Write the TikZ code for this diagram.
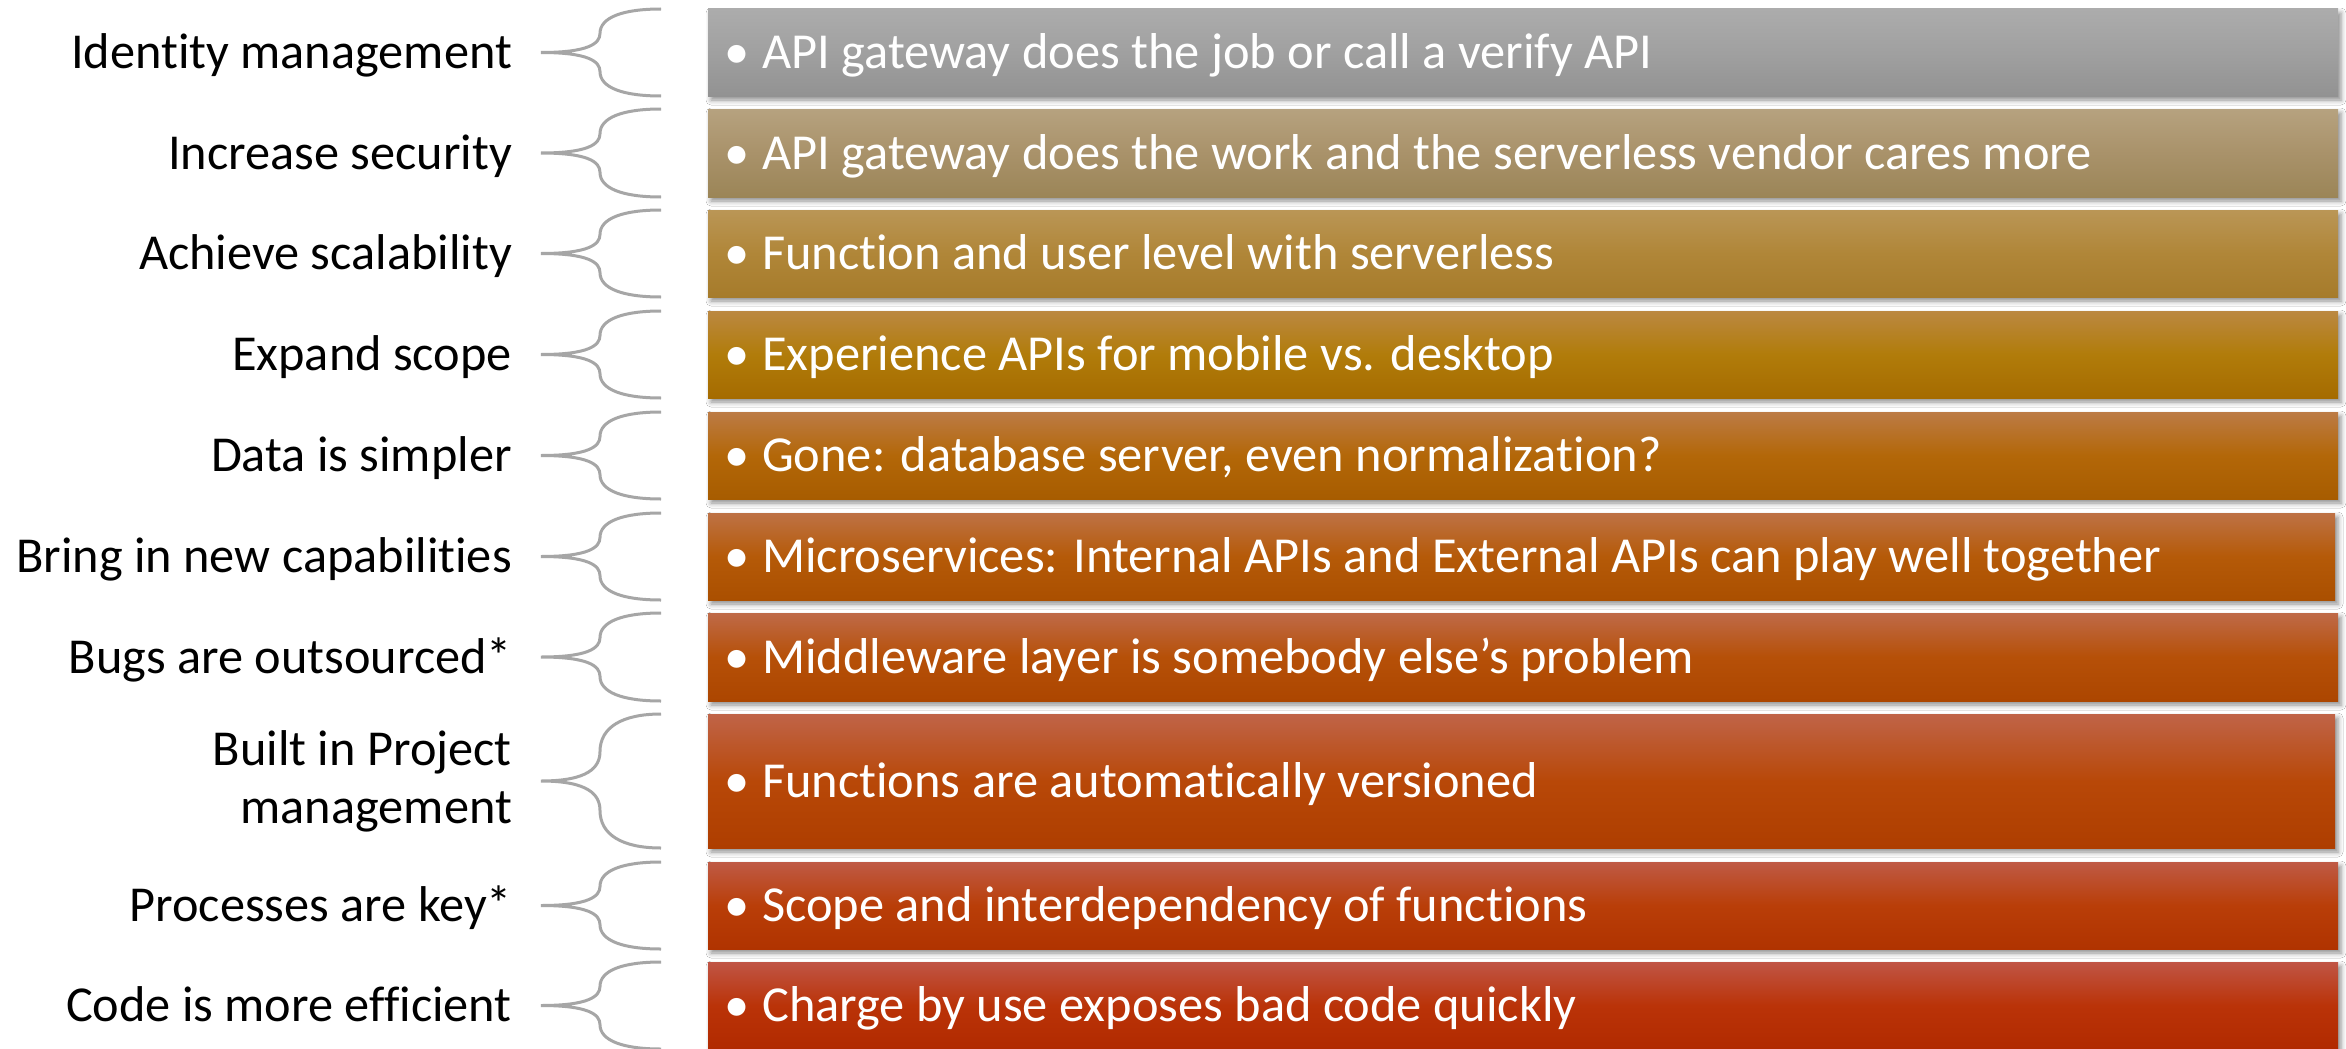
\documentclass[tikz,border=0pt]{standalone}
\usepackage{fontspec}
\setmainfont[Ligatures=NoCommon]{Carlito}
\usetikzlibrary{shadows.blur}
\definecolor{rt1}{HTML}{ACACAC}\definecolor{rm1}{HTML}{A0A0A0}\definecolor{rb1}{HTML}{929292}
\definecolor{rt2}{HTML}{B6A27F}\definecolor{rm2}{HTML}{A9926A}\definecolor{rb2}{HTML}{9B8557}
\definecolor{rt3}{HTML}{BA9656}\definecolor{rm3}{HTML}{B08638}\definecolor{rb3}{HTML}{A67B2B}
\definecolor{rt4}{HTML}{BB8841}\definecolor{rm4}{HTML}{B17C0A}\definecolor{rb4}{HTML}{A56B00}
\definecolor{rt5}{HTML}{BC7B45}\definecolor{rm5}{HTML}{B36708}\definecolor{rb5}{HTML}{A75C00}
\definecolor{rt6}{HTML}{BE7245}\definecolor{rm6}{HTML}{B55A08}\definecolor{rb6}{HTML}{AA4F00}
\definecolor{rt7}{HTML}{BF6A48}\definecolor{rm7}{HTML}{B65008}\definecolor{rb7}{HTML}{AC4600}
\definecolor{rt8}{HTML}{C06448}\definecolor{rm8}{HTML}{B84808}\definecolor{rb8}{HTML}{AE3E00}
\definecolor{rt9}{HTML}{BF5A45}\definecolor{rm9}{HTML}{B93E08}\definecolor{rb9}{HTML}{B03300}
\definecolor{rt10}{HTML}{C05545}\definecolor{rm10}{HTML}{BA3308}\definecolor{rb10}{HTML}{B12A00}
\definecolor{bracegray}{HTML}{A6A6A6}
\begin{document}
\begin{tikzpicture}[x=1pt,y=-1pt,
  box/.style={draw=none, inner sep=0pt, outer sep=0pt,
    blur shadow={shadow xshift=3pt, shadow yshift=-4pt, shadow blur radius=5pt, shadow opacity=45}},
  boxtext/.style={inner sep=0pt, text=white, font=\fontsize{50.4}{60}\selectfont},
  lab/.style={inner sep=0pt, text=black, font=\fontsize{50.3}{58}\selectfont, align=right},
  bracestyle/.style={draw=bracegray, line width=3pt}]
\useasboundingbox[fill=white] (0,0) rectangle (2346,1049);
\foreach \i/\T/\B/\W/\txt in {
  1/9/96/1630/{API gateway does the job or call a verify API},
  2/109/197/1630/{API gateway does the work and the serverless vendor cares more},
  3/210/297/1630/{Function and user level with serverless},
  4/311/398/1630/{Experience APIs for mobile vs. desktop},
  5/412/499/1630/{Gone: database server, even normalization?},
  6/513/600/1627/{Microservices: Internal APIs and External APIs can play well together},
  7/613/701/1630/{Middleware layer is somebody else’s problem},
  8/714/848/1627/{Functions are automatically versioned},
  9/862/949/1630/{Scope and interdependency of functions},
  10/962/1049/1630/{Charge by use exposes bad code quickly}}{
  \pgfmathsetmacro\H{\B-\T}
  \pgfmathsetmacro\M{(\T+\B)/2}
  \node[box, top color=rt\i, bottom color=rb\i, middle color=rm\i,
        minimum width=\W pt, minimum height=\H pt, anchor=north west] (b\i) at (708,\T) {};
  \node[boxtext, anchor=base west] (t\i) at (724,\M+16) {\makebox[38pt][l]{•}\txt};
  \draw[bracestyle] (661,\T) .. controls (622,\T) and (600,\T+0.1*\H) .. (600,\T+0.28*\H)
     .. controls (600,\M-0.1*\H) and (588,\M) .. (541,\M)
     .. controls (588,\M) and (600,\M+0.1*\H) .. (600,\B-0.28*\H)
     .. controls (600,\B-0.1*\H) and (622,\B) .. (661,\B);
}
\node[lab, anchor=base east] (l1) at (512,68.5) {Identity management};
\node[lab, anchor=base east] (l2) at (512,169) {Increase security};
\node[lab, anchor=base east] (l3) at (512,269.5) {Achieve scalability};
\node[lab, anchor=base east] (l4) at (512,370.5) {Expand scope};
\node[lab, anchor=base east] (l5) at (512,471.5) {Data is simpler};
\node[lab, anchor=base east] (l6) at (512,572.5) {Bring in new capabilities};
\node[lab, anchor=base east] (l7) at (512,673) {Bugs are outsourced*};
\node[lab, anchor=east] (l8) at (512,781) {Built in Project\\management};
\node[lab, anchor=base east] (l9) at (512,921.5) {Processes are key*};
\node[lab, anchor=base east] (l10) at (512,1021.5) {Code is more efficient};
\end{tikzpicture}
\end{document}
